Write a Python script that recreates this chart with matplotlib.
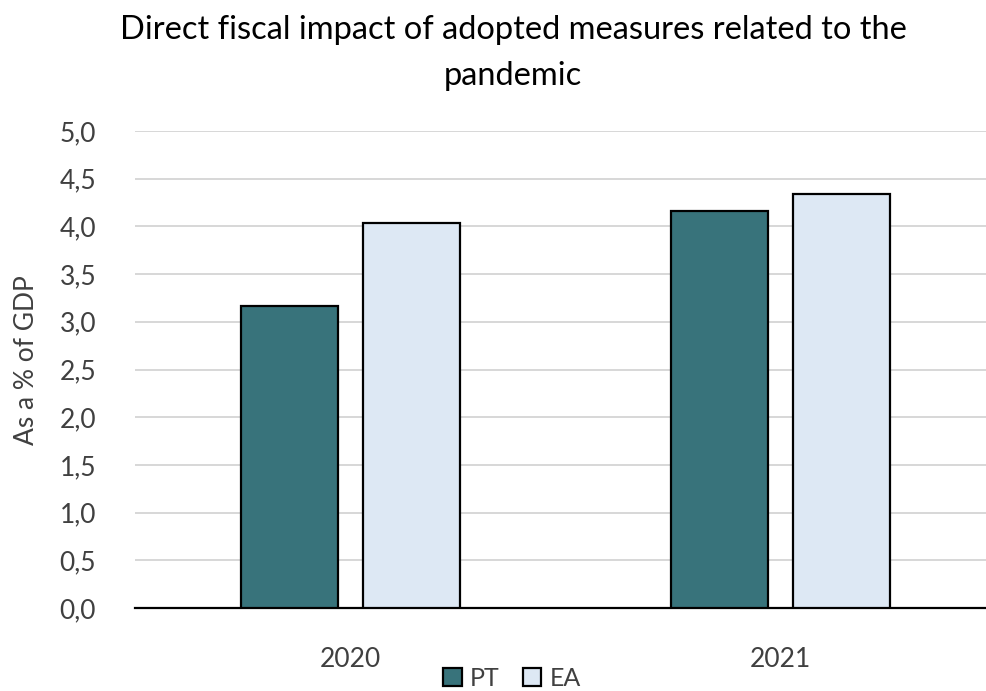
import matplotlib.pyplot as plt
import numpy as np

# -------- Data --------
years = ["2020", "2021"]
pt = [3.17, 4.16]
ea = [4.04, 4.34]
yticks = np.arange(0, 5.01, 0.5)

plt.rcParams['font.family'] = ['Lato', 'DejaVu Sans']
grey = "#404040"

fig = plt.figure(figsize=(9.87, 6.91), dpi=100)
# axis runs slightly past the right edge, as in the reference
ax = fig.add_axes([135 / 987, 83 / 691, 861 / 987, 477 / 691])

x = np.arange(len(years))
w = 0.225
gap = 0.058
ax.bar(x - (w + gap) / 2, pt, w, color="#38737B", edgecolor="black", linewidth=1.6, label="PT", zorder=3)
ax.bar(x + (w + gap) / 2, ea, w, color="#DDE8F4", edgecolor="black", linewidth=1.6, label="EA", zorder=3)

ax.set_xlim(-0.5, 1.5)
ax.set_ylim(0, 5)
ax.set_yticks(yticks)
ax.set_yticklabels([f"{v:.1f}".replace(".", ",") for v in yticks], fontsize=19, color=grey)
ax.set_xticks(x)
ax.set_xticklabels(years, fontsize=19, color=grey)
ax.tick_params(axis="y", length=0, pad=28)
ax.tick_params(axis="x", length=0, pad=28)
ax.yaxis.grid(True, color="#d4d4d4", linewidth=1.3, zorder=0)
for s in ["top", "right", "left"]:
    ax.spines[s].set_visible(False)
ax.spines["bottom"].set_linewidth(1.6)
ax.set_ylabel("As a % of GDP", fontsize=19, color=grey)
ax.yaxis.set_label_coords(-0.112, 0.52)

fig.text(0.52, 0.978, "Direct fiscal impact of adopted measures related to the\npandemic",
         fontsize=23.5, ha="center", va="top", linespacing=1.65, color="black")

fig.legend(loc="center", bbox_to_anchor=(512 / 987, 13 / 691), ncol=2, frameon=False,
           fontsize=18, handlelength=0.75, handleheight=0.75, handletextpad=0.35,
           columnspacing=0.9, labelcolor=grey)

fig.savefig("out.png", dpi=100)
